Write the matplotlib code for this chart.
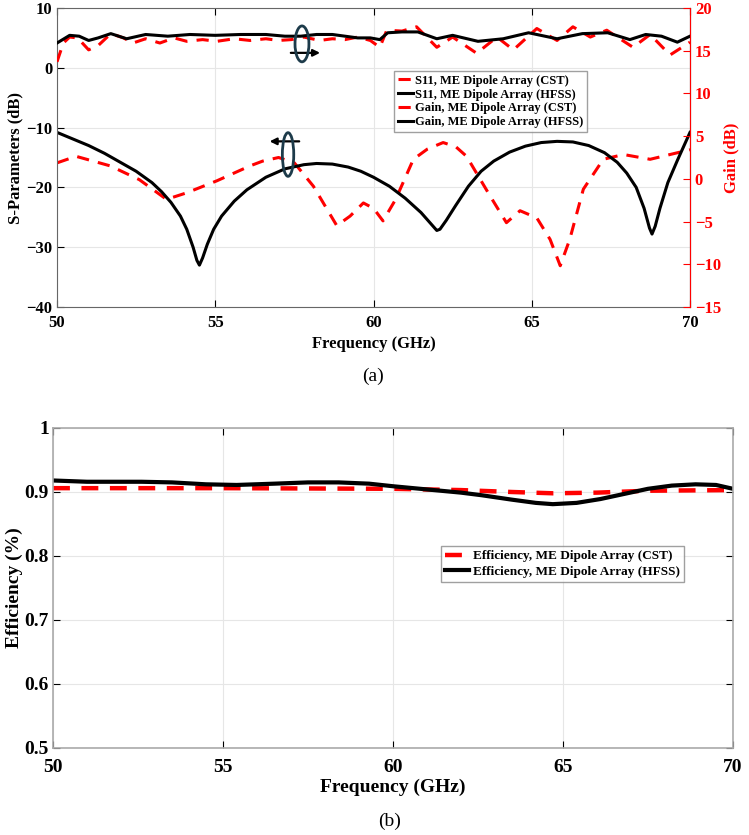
import matplotlib.pyplot as plt
from matplotlib.lines import Line2D
from matplotlib.patches import Ellipse

plt.rcParams['font.family'] = ['Liberation Serif', 'DejaVu Serif']
plt.rcParams['font.weight'] = 'bold'

# (a) gain (dB)
f_gain_hfss = [50.0, 50.4, 50.7, 51.0, 51.3, 51.7, 52.2, 52.8, 53.5, 54.2, 55.0, 55.8, 56.6,
               57.2, 57.7, 58.2, 58.7, 59.5, 59.9, 60.2, 60.45, 60.9, 61.4, 62.0, 62.5, 63.3,
               64.1, 64.9, 65.8, 66.6, 67.4, 68.1, 68.6, 69.1, 69.6, 70.0]
gain_hfss = [15.9, 16.8, 16.7, 16.2, 16.5, 17.0, 16.4, 16.9, 16.7, 16.9, 16.8, 16.9, 16.9,
             16.7, 16.7, 16.9, 16.9, 16.5, 16.5, 16.3, 17.1, 17.2, 17.2, 16.4, 16.8, 16.1,
             16.4, 17.1, 16.4, 17.0, 17.1, 16.3, 16.9, 16.7, 16.0, 16.7]

f_gain_cst = [50.0, 50.2, 50.4, 50.65, 51.0, 51.3, 51.7, 52.1, 52.4, 52.8, 53.25, 53.7, 54.1,
              54.6, 55.05, 55.6, 56.1, 56.6, 57.0, 57.4, 57.8, 58.3, 58.7, 59.1, 59.5, 59.9,
              60.2, 60.42, 60.9, 61.36, 62.0, 62.5, 63.26, 63.9, 64.42, 65.16, 65.8, 66.3,
              66.85, 67.37, 68.2, 68.74, 69.37, 70.0]
gain_cst = [13.7, 15.9, 16.6, 16.5, 15.1, 15.6, 17.0, 16.5, 15.9, 16.4, 15.9, 16.5, 16.1,
            16.3, 16.1, 16.4, 16.2, 16.4, 16.2, 16.3, 16.6, 16.2, 16.4, 16.3, 16.6, 16.2,
            15.4, 17.4, 17.3, 17.8, 15.4, 16.6, 14.7, 16.6, 15.1, 17.6, 16.2, 17.8,
            16.6, 17.4, 15.4, 16.9, 14.5, 16.0]

# (a) S11 (dB)
f_s11_hfss = [50.0, 50.5, 51.0, 51.5, 52.0, 52.5, 53.0, 53.3, 53.6, 53.9, 54.1, 54.3, 54.42,
              54.5, 54.6, 54.75, 54.95, 55.2, 55.6, 56.0, 56.6, 57.2, 57.8, 58.2, 58.7, 59.2,
              59.6, 60.0, 60.5, 61.0, 61.5, 61.8, 62.0, 62.1, 62.3, 62.6, 63.0, 63.4, 63.8,
              64.3, 64.8, 65.3, 65.8, 66.3, 66.8, 67.3, 67.7, 68.0, 68.3, 68.55, 68.72, 68.8,
              68.9, 69.05, 69.3, 69.6, 70.0]
s11_hfss = [-10.8, -11.9, -13.0, -14.3, -15.8, -17.3, -19.2, -20.7, -22.5, -24.8, -27.0, -30.0,
            -32.2, -33.0, -31.8, -29.5, -27.0, -24.8, -22.3, -20.4, -18.3, -16.9, -16.2, -16.0,
            -16.1, -16.6, -17.3, -18.3, -19.8, -21.8, -24.2, -26.0, -27.2, -27.0, -25.5, -23.0,
            -19.8, -17.3, -15.6, -14.1, -13.1, -12.5, -12.3, -12.4, -13.0, -14.2, -15.8, -17.6,
            -20.0, -23.5, -26.8, -27.8, -26.5, -23.5, -19.2, -15.5, -10.8]

f_s11_cst = [50.0, 50.6, 51.68, 52.6, 53.46, 54.1, 55.05, 56.1, 56.5, 57.0, 57.5, 58.1, 58.84,
             59.26, 59.68, 60.0, 60.3, 60.7, 61.26, 61.7, 62.2, 62.6, 62.94, 63.68, 64.2, 64.63,
             65.16, 65.58, 65.9, 66.2, 66.63, 67.26, 67.9, 68.74, 70.0]
s11_cst = [-15.9, -14.8, -16.4, -18.7, -22.0, -20.9, -18.9, -16.4, -15.6, -15.0, -15.9, -19.8,
           -26.4, -24.8, -22.6, -23.5, -25.6, -22.0, -15.3, -13.6, -12.5, -13.2, -14.8, -21.4,
           -25.9, -23.9, -25.1, -28.7, -33.1, -28.7, -20.3, -15.3, -14.5, -15.3, -13.7]

# (b) efficiency
f_eff_hfss = [50.0, 51.0, 52.6, 53.5, 54.5, 55.4, 56.5, 57.5, 58.4, 59.3, 60.0, 61.0, 62.0,
              62.6, 63.5, 64.2, 64.7, 65.4, 66.1, 66.8, 67.5, 68.2, 68.9, 69.5, 70.0]
eff_hfss = [0.918, 0.916, 0.916, 0.915, 0.912, 0.911, 0.913, 0.915, 0.915, 0.913, 0.909, 0.904,
            0.899, 0.895, 0.888, 0.883, 0.881, 0.883, 0.889, 0.897, 0.905, 0.910, 0.912, 0.911,
            0.905]
f_eff_cst = [50.0, 55.0, 60.0, 62.0, 63.5, 64.7, 66.0, 67.5, 70.0]
eff_cst = [0.906, 0.906, 0.905, 0.903, 0.900, 0.898, 0.899, 0.902, 0.903]

legend_a = ['S11, ME Dipole Array (CST)', 'S11, ME Dipole Array (HFSS)',
            'Gain, ME Dipole Array (CST)', 'Gain, ME Dipole Array (HFSS)']
legend_b = ['Efficiency, ME Dipole Array (CST)', 'Efficiency, ME Dipole Array (HFSS)']

red = '#ff0000'
grid_c = '#e6e6e6'
spine_c = '#666666'

fig = plt.figure(figsize=(7.49, 8.35), dpi=100)

# ---------------- (a) ----------------
ax1 = fig.add_axes([57 / 749, 1 - 307 / 835, 633 / 749, 299 / 835])
ax2 = ax1.twinx()

ax1.plot(f_s11_cst, s11_cst, color=red, lw=2.2, dashes=(4, 3))
ax1.plot(f_s11_hfss, s11_hfss, color='k', lw=2.2)
ax2.plot(f_gain_cst, gain_cst, color=red, lw=2.2, dashes=(4, 3))
ax2.plot(f_gain_hfss, gain_hfss, color='k', lw=2.2)

ax1.set_xlim(50, 70)
ax1.set_ylim(-40, 10)
ax2.set_ylim(-15, 20)
ax1.set_xticks([50, 55, 60, 65, 70])
ax1.set_yticks([-40, -30, -20, -10, 0, 10])
ax2.set_yticks([-15, -10, -5, 0, 5, 10, 15, 20])
ax1.grid(True, color=grid_c, lw=0.8)
ax1.tick_params(direction='in', labelsize=12, top=True, length=5, colors='k')
ax1.tick_params(axis='x', pad=6)
ax2.tick_params(direction='in', labelsize=12, length=5, colors=red)
for lbl in ax1.get_xticklabels() + ax1.get_yticklabels() + ax2.get_yticklabels():
    lbl.set_fontweight('bold')
for s in ['top', 'left', 'bottom']:
    ax1.spines[s].set_color(spine_c)
ax2.spines['right'].set_color(red)
for s in ['top', 'left', 'bottom']:
    ax2.spines[s].set_visible(False)

ax1.set_xlabel('Frequency (GHz)', fontsize=12, fontweight='bold', labelpad=3)
ax1.set_ylabel('S-Parameters (dB)', fontsize=12, fontweight='bold', labelpad=2)
ax2.set_ylabel('Gain (dB)', fontsize=12, fontweight='bold', color=red, labelpad=2)

# ellipse + arrow markers for which axis each pair belongs to
ell_c = '#1d3b4a'
ax2.add_patch(Ellipse((57.74, 4.0), 0.44, 6.0, transform=ax1.transData,
                      fill=False, ec=ell_c, lw=2, zorder=5))
ax2.annotate('', xy=(58.40, 2.5), xytext=(57.30, 2.5), xycoords=ax1.transData,
             textcoords=ax1.transData,
             arrowprops=dict(arrowstyle='-|>', color='k', lw=1.6, mutation_scale=10))
ax2.add_patch(Ellipse((57.30, -14.5), 0.36, 7.3, transform=ax1.transData,
                      fill=False, ec=ell_c, lw=2, zorder=5))
ax2.annotate('', xy=(56.63, -12.3), xytext=(57.74, -12.3), xycoords=ax1.transData,
             textcoords=ax1.transData,
             arrowprops=dict(arrowstyle='-|>', color='k', lw=1.6, mutation_scale=10))

handles_a = [Line2D([], [], color=red, lw=2.2, dashes=(4, 3)),
             Line2D([], [], color='k', lw=2.2),
             Line2D([], [], color=red, lw=2.2, dashes=(4, 3)),
             Line2D([], [], color='k', lw=2.2)]
leg = ax2.legend(handles_a, legend_a, loc='upper left',
                 bbox_to_anchor=((394 - 57) / 633, 1 - (71 - 8) / 299),
                 borderaxespad=0, frameon=True, fancybox=False, handlelength=1.2,
                 handletextpad=0.2, borderpad=0.3, labelspacing=0.15,
                 prop={'weight': 'bold', 'size': 9})
leg.get_frame().set_edgecolor('#888888')
leg.get_frame().set_linewidth(1.0)

fig.text(373 / 749, 1 - 376 / 835, '(a)', ha='center', va='center', fontsize=14,
         fontweight='normal')

# ---------------- (b) ----------------
ax3 = fig.add_axes([53 / 749, 1 - 748 / 835, 680 / 749, 320 / 835])
ax3.plot(f_eff_cst, eff_cst, color=red, lw=3.2, dashes=(3.8, 2.6))
ax3.plot(f_eff_hfss, eff_hfss, color='k', lw=3.0)
ax3.set_xlim(50, 70)
ax3.set_ylim(0.5, 1.0)
ax3.set_xticks([50, 55, 60, 65, 70])
ax3.set_yticks([0.5, 0.6, 0.7, 0.8, 0.9, 1.0])
ax3.set_yticklabels(['0.5', '0.6', '0.7', '0.8', '0.9', '1'])
ax3.grid(True, color=grid_c, lw=0.8)
ax3.tick_params(direction='in', labelsize=14, top=True, right=True, length=5)
ax3.tick_params(axis='x', pad=8)
ax3.tick_params(axis='y', pad=3)
for lbl in ax3.get_xticklabels() + ax3.get_yticklabels():
    lbl.set_fontweight('bold')
for s in ax3.spines.values():
    s.set_color('#aaaaaa')
    s.set_linewidth(1.2)
ax3.set_xlabel('Frequency (GHz)', fontsize=14, fontweight='bold', labelpad=2)
ax3.set_ylabel('Efficiency (%)', fontsize=14, fontweight='bold', labelpad=1)

handles_b = [Line2D([], [], color=red, lw=3.2, dashes=(3.8, 2.6)),
             Line2D([], [], color='k', lw=3.0)]
leg2 = ax3.legend(handles_b, legend_b, loc='upper left',
                  bbox_to_anchor=((441 - 53) / 680, 1 - (546 - 428) / 320),
                  borderaxespad=0, frameon=True, fancybox=False, handlelength=1.8,
                  handletextpad=0.3, borderpad=0.3, labelspacing=0.25,
                  prop={'weight': 'bold', 'size': 9.5})
leg2.get_frame().set_edgecolor('#888888')
leg2.get_frame().set_linewidth(1.0)

fig.text(390 / 749, 1 - 821 / 835, '(b)', ha='center', va='center', fontsize=14,
         fontweight='normal')

fig.savefig('out.png', dpi=100)
